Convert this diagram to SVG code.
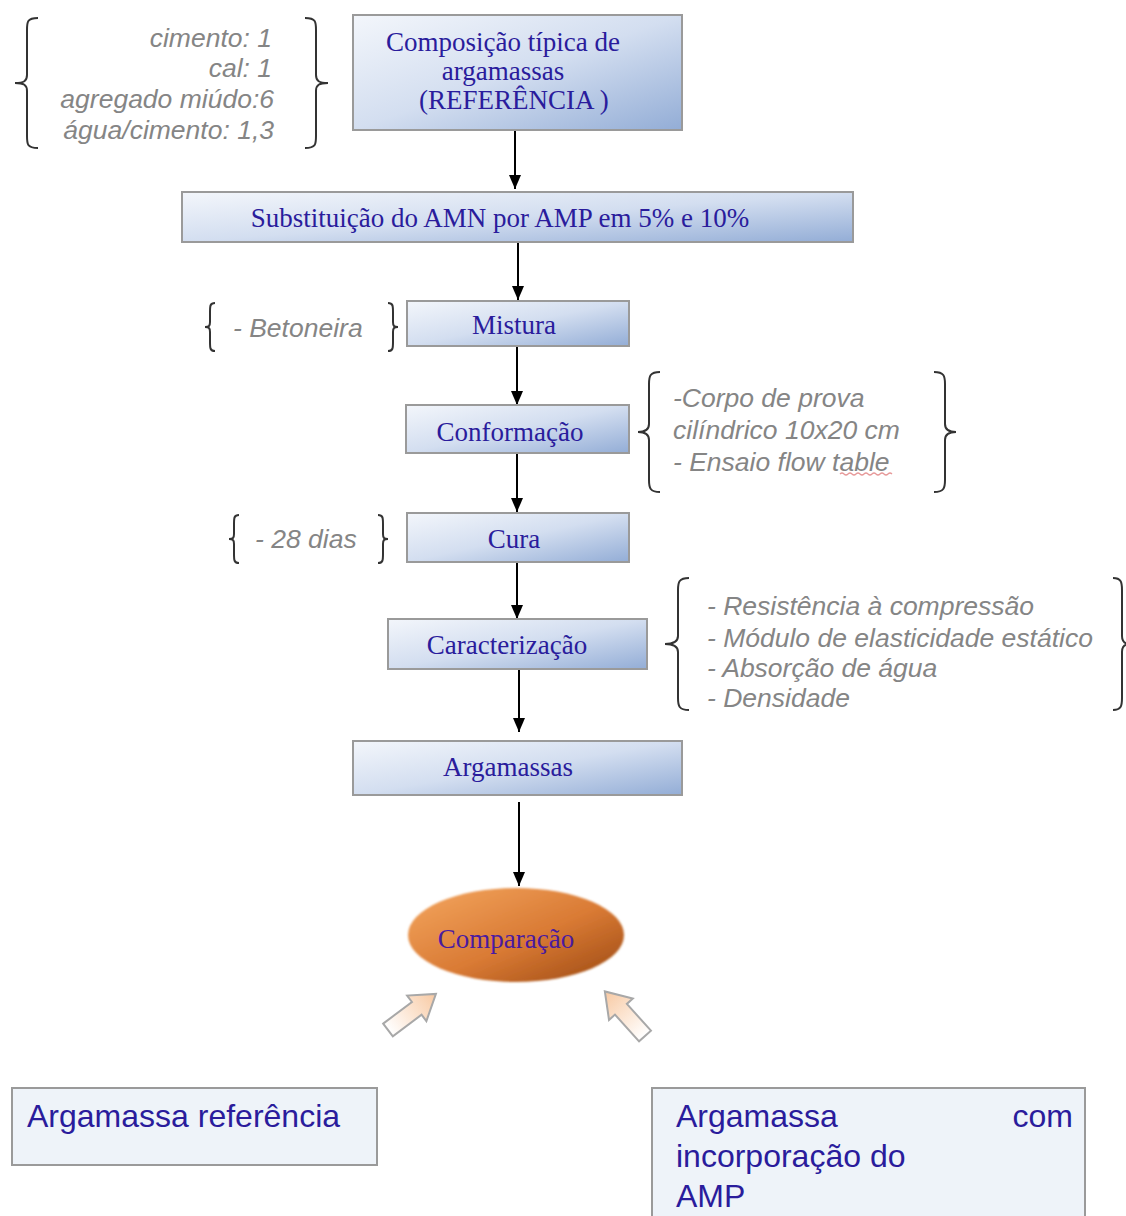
<svg xmlns="http://www.w3.org/2000/svg" width="1126" height="1216" viewBox="0 0 1126 1216">
<defs>
<linearGradient id="boxg" x1="0" y1="0" x2="1" y2="1">
<stop offset="0" stop-color="#f3f6fb"/>
<stop offset="0.5" stop-color="#d3def0"/>
<stop offset="1" stop-color="#93add6"/>
</linearGradient>
<linearGradient id="ellg" x1="0" y1="0" x2="1" y2="1">
<stop offset="0" stop-color="#f4a760"/>
<stop offset="0.55" stop-color="#d97a34"/>
<stop offset="1" stop-color="#9a4812"/>
</linearGradient>
<linearGradient id="arrg" x1="0" y1="0" x2="1" y2="0">
<stop offset="0" stop-color="#ffffff"/>
<stop offset="1" stop-color="#f8c9a2"/>
</linearGradient>
<marker id="ah" viewBox="0 0 14 12" refX="14" refY="6" markerWidth="14" markerHeight="12" markerUnits="userSpaceOnUse" orient="auto">
<path d="M0,0 L14,6 L0,12 Z" fill="#000"/>
</marker>
<filter id="soft" x="-10%" y="-10%" width="120%" height="120%"><feGaussianBlur stdDeviation="1.2"/></filter>
</defs>
<style>
.box{fill:url(#boxg);stroke:#9a9a9a;stroke-width:2}
.bt{font-family:"Liberation Serif","Times New Roman",serif;font-size:27px;fill:#2a1c9c;text-anchor:middle}
.note{font-family:"Liberation Sans",Arial,sans-serif;font-size:26.5px;font-style:italic;fill:#858585}
.br{fill:none;stroke:#333;stroke-width:2}
.conn{stroke:#000;stroke-width:2;fill:none}
.plain{fill:#eef3f9;stroke:#9a9a9a;stroke-width:2}
.pt{font-family:"Liberation Sans",Arial,sans-serif;font-size:32px;fill:#2a1c9c}
.ba{fill:url(#arrg);stroke:#a8a8a8;stroke-width:2}
</style>
<rect width="1126" height="1216" fill="#ffffff"/>

<g id="connectors">
<line class="conn" x1="515" y1="130" x2="515" y2="189" marker-end="url(#ah)"/>
<line class="conn" x1="518" y1="242" x2="518" y2="300" marker-end="url(#ah)"/>
<line class="conn" x1="517" y1="346" x2="517" y2="405" marker-end="url(#ah)"/>
<line class="conn" x1="517" y1="453" x2="517" y2="512" marker-end="url(#ah)"/>
<line class="conn" x1="517" y1="562" x2="517" y2="619" marker-end="url(#ah)"/>
<line class="conn" x1="519" y1="669" x2="519" y2="732" marker-end="url(#ah)"/>
<line class="conn" x1="519" y1="802" x2="519" y2="886" marker-end="url(#ah)"/>
</g>

<g id="note-composicao">
<path class="br" d="M38,18 C27,18 27,22 27,30 L27,75 C27,81 24,83 15,83 C24,83 27,85 27,91 L27,136 C27,144 27,148 38,148"/>
<path class="br" d="M305,18 C316,18 316,22 316,30 L316,75 C316,81 319,83 328,83 C319,83 316,85 316,91 L316,136 C316,144 316,148 305,148"/>
<text class="note" text-anchor="end" x="272" y="47">cimento: 1</text>
<text class="note" text-anchor="end" x="272" y="77">cal: 1</text>
<text class="note" text-anchor="end" x="274" y="108">agregado miúdo:6</text>
<text class="note" text-anchor="end" x="274" y="139">água/cimento: 1,3</text>
</g>

<g id="n1">
<rect class="box" x="353" y="15" width="329" height="115"/>
<text class="bt" x="503" y="51">Composição típica de</text>
<text class="bt" x="503" y="80">argamassas</text>
<text class="bt" x="514" y="109">(REFERÊNCIA )</text>
</g>

<g id="n2">
<rect class="box" x="182" y="192" width="671" height="50"/>
<text class="bt" x="500" y="227">Substituição do AMN por AMP em 5% e 10%</text>
</g>

<g id="note-mistura">
<path class="br" d="M215,303 C210,303 210,306 210,312 L210,322 C210,326 209,327 205,327 C209,327 210,328 210,332 L210,342 C210,348 210,351 215,351"/>
<path class="br" d="M388,303 C393,303 393,306 393,312 L393,322 C393,326 394,327 398,327 C394,327 393,328 393,332 L393,342 C393,348 393,351 388,351"/>
<text class="note" x="233" y="337">- Betoneira</text>
</g>

<g id="n3">
<rect class="box" x="407" y="301" width="222" height="45"/>
<text class="bt" x="514" y="334">Mistura</text>
</g>

<g id="n4">
<rect class="box" x="406" y="405" width="223" height="48"/>
<text class="bt" x="510" y="441">Conformação</text>
</g>

<g id="note-conformacao">
<path class="br" d="M660,372 C650,372 649,376 649,384 L649,424 C649,429 646,432 638,432 C646,432 649,435 649,440 L649,480 C649,488 650,492 660,492"/>
<path class="br" d="M934,372 C944,372 945,376 945,384 L945,424 C945,429 948,432 956,432 C948,432 945,435 945,440 L945,480 C945,488 944,492 934,492"/>
<text class="note" x="673" y="407">-Corpo de prova</text>
<text class="note" x="673" y="439">cilíndrico 10x20 cm</text>
<text class="note" x="673" y="471">- Ensaio flow table</text>
<path d="M840,474 q2,-2 4,0 t4,0 t4,0 t4,0 t4,0 t4,0 t4,0 t4,0 t4,0 t4,0 t4,0 t4,0 t4,0" fill="none" stroke="#e08080" stroke-width="1.2" opacity="0.8"/>
</g>

<g id="note-cura">
<path class="br" d="M239,515 C234,515 234,518 234,524 L234,534 C234,538 233,539 229,539 C233,539 234,540 234,544 L234,554 C234,560 234,563 239,563"/>
<path class="br" d="M378,515 C383,515 383,518 383,524 L383,534 C383,538 384,539 388,539 C384,539 383,540 383,544 L383,554 C383,560 383,563 378,563"/>
<text class="note" x="255" y="548">- 28 dias</text>
</g>

<g id="n5">
<rect class="box" x="407" y="513" width="222" height="49"/>
<text class="bt" x="514" y="548">Cura</text>
</g>

<g id="n6">
<rect class="box" x="388" y="619" width="259" height="50"/>
<text class="bt" x="507" y="654">Caracterização</text>
</g>

<g id="note-caracterizacao">
<path class="br" d="M689,578 C679,578 678,582 678,590 L678,636 C678,641 675,644 665,644 C675,644 678,647 678,652 L678,698 C678,706 679,710 689,710"/>
<path class="br" d="M1113,578 C1121,578 1122,582 1122,590 L1122,636 C1122,641 1124,644 1130,644 C1124,644 1122,647 1122,652 L1122,698 C1122,706 1121,710 1113,710"/>
<text class="note" x="707" y="615">- Resistência à compressão</text>
<text class="note" x="707" y="647">- Módulo de elasticidade estático</text>
<text class="note" x="707" y="677">- Absorção de água</text>
<text class="note" x="707" y="707">- Densidade</text>
</g>

<g id="n7">
<rect class="box" x="353" y="741" width="329" height="54"/>
<text class="bt" x="508" y="776">Argamassas</text>
</g>

<g id="n8">
<ellipse cx="516" cy="935" rx="108" ry="47" fill="url(#ellg)" filter="url(#soft)"/>
<text class="bt" x="506" y="948" style="fill:#4a1aa0">Comparação</text>
</g>

<g id="block-arrows">
<polygon class="ba" transform="translate(388,1030) rotate(-37)" points="0,-8 36,-8 36,-16 60,0 36,16 36,8 0,8"/>
<polygon class="ba" transform="translate(645,1036) rotate(-132)" points="0,-8 36,-8 36,-16 60,0 36,16 36,8 0,8"/>
</g>

<g id="n9">
<rect class="plain" x="12" y="1088" width="365" height="77"/>
<text class="pt" x="27" y="1127">Argamassa referência</text>
</g>

<g id="n10">
<rect class="plain" x="652" y="1088" width="433" height="140"/>
<text class="pt" x="676" y="1127">Argamassa</text>
<text class="pt" x="1073" y="1127" text-anchor="end">com</text>
<text class="pt" x="676" y="1167">incorporação do</text>
<text class="pt" x="676" y="1207">AMP</text>
</g>
</svg>
